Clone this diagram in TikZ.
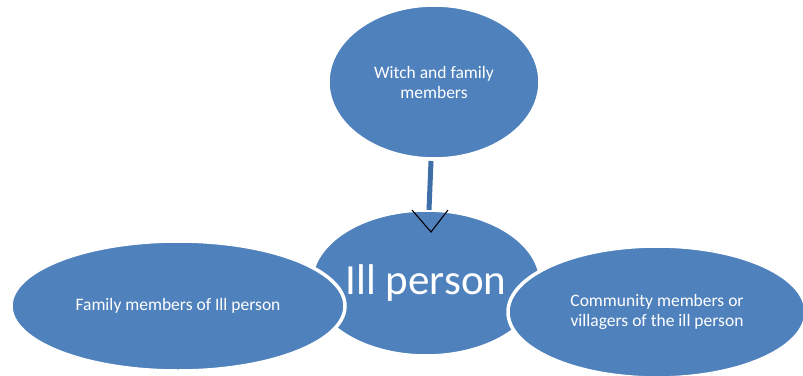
\documentclass[tikz,border=0pt]{standalone}
\usepackage{fontspec}
\setmainfont{Carlito}
\usetikzlibrary{shapes.geometric}
\definecolor{bubble}{HTML}{4F81BD}
\definecolor{stemblue}{HTML}{3F6FA8}
\tikzset{
  bubble/.style={ellipse, fill=bubble, draw=white, line width=3.5pt, inner sep=0pt,
    text=white, align=center, font=\fontsize{17.5}{20}\selectfont},
}
\begin{document}
\begin{tikzpicture}[x=1pt,y=-1pt]
  \useasboundingbox (0,0) rectangle (803,375);
  % central person, drawn first so the side groups overlap it
  \node[bubble, minimum width=230pt, minimum height=146pt,
        font=\fontsize{43}{46}\selectfont] (ill) at (426,283) {Ill person};
  \node[bubble, minimum width=334pt, minimum height=130pt] (family) at (178,306)
    {Family members of Ill person};
  \node[bubble, minimum width=298pt, minimum height=132pt] (community) at (657,312)
    {Community members or\\villagers of the ill person};
  \node[bubble, minimum width=212pt, minimum height=154pt] (witch) at (434,82)
    {Witch and family\\members};
  % connector from the witch group down to the ill person
  \coordinate (stemtop) at (431,161);
  \coordinate (stemend) at (429,210);
  \coordinate (tip) at (431,232);
  \draw[stemblue, line width=5pt] (stemtop) -- (stemend);
  \draw[black, line width=1.1pt] ([shift={(-19,-22)}]tip) -- (tip) -- ([shift={(17,-22)}]tip);
\end{tikzpicture}
\end{document}
